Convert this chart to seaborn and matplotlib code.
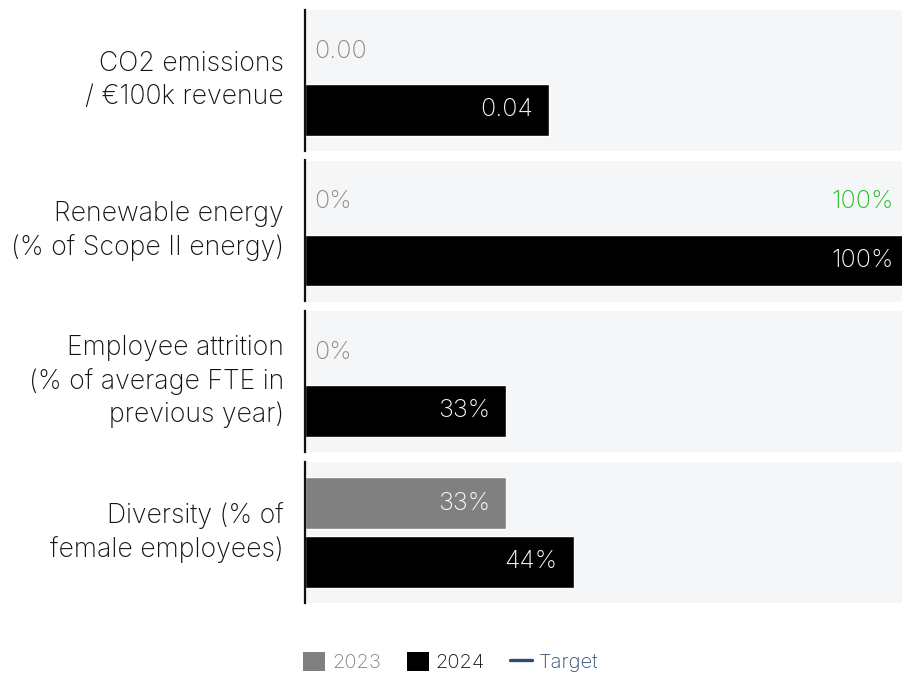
import matplotlib
matplotlib.use("Agg")
import matplotlib.pyplot as plt
from matplotlib.patches import Patch
from matplotlib.lines import Line2D
import seaborn as sns
import pandas as pd

# ---- data -------------------------------------------------------------
metrics = [
    "CO2 emissions\n/ €100k revenue",
    "Renewable energy\n(% of Scope II energy)",
    "Employee attrition\n(% of average FTE in\nprevious year)",
    "Diversity (% of\nfemale employees)",
]
years = ["2023", "2024"]
values_2023 = [0.00, 0.0, 0.0, 33.3]
values_2024 = [0.04, 100.0, 33.3, 44.4]
labels_2023 = ["0.00", "0%", "0%", "33%"]
labels_2024 = ["0.04", "100%", "33%", "44%"]
targets = [None, 100.0, None, None]
target_labels = [None, "100%", None, None]
axis_max = [0.099, 100.0, 100.0, 100.0]

# ---- style ------------------------------------------------------------
sns.set_theme(style="white")
plt.rcParams["font.family"] = ["Inter", "DejaVu Sans"]
WEIGHT = "light"

C2023 = "#808080"
C2024 = "#000000"
CZERO = "#8a8a8a"
CTARGET_TXT = "#22c022"
CTARGET = "#2f4b6e"
PANEL_BG = "#f5f6f8"
INK = "#111111"

W, H = 902, 673
fig = plt.figure(figsize=(W / 100, H / 100), dpi=100)

PX = 0.72  # points per pixel at 100 dpi
panel_tops = [10, 160.5, 311, 462]
panel_h = 141
ax_left, ax_right = 305, 910

df = pd.DataFrame({
    "metric": [m for m in metrics for _ in years],
    "year": years * len(metrics),
    "value": [v for pair in zip(values_2023, values_2024) for v in pair],
})

for i, metric in enumerate(metrics):
    top = panel_tops[i]
    ax = fig.add_axes([ax_left / W, 1 - (top + panel_h) / H,
                       (ax_right - ax_left) / W, panel_h / H])
    ax.set_facecolor(PANEL_BG)
    sub = df[df["metric"] == metric]
    sns.barplot(data=sub, x="value", y="year", hue="year", order=years,
                hue_order=years, palette={"2023": C2023, "2024": C2024},
                width=0.87, saturation=1, legend=False, ax=ax, orient="h")
    ax.set_xlim(0, axis_max[i])
    ax.set_ylim(1.695, -0.695)
    ax.set_xlabel("")
    ax.set_ylabel("")
    ax.set_xticks([])
    ax.set_yticks([])
    for s in ["top", "right", "bottom"]:
        ax.spines[s].set_visible(False)
    ax.spines["left"].set_color(INK)
    ax.spines["left"].set_linewidth(1.6)

    # category label
    ax.annotate(metric, xy=(0, 0.5), xycoords="axes fraction",
                xytext=(-21 * PX, 0), textcoords="offset points",
                ha="right", va="center", multialignment="right",
                fontsize=19.2, color=INK, linespacing=1.35, fontweight=WEIGHT)

    # value labels
    for row, (val, lab) in enumerate([(values_2023[i], labels_2023[i]),
                                      (values_2024[i], labels_2024[i])]):
        if val > 0:
            ax.annotate(lab, xy=(val, row), xytext=(-16 * PX, 0),
                        textcoords="offset points", ha="right", va="center",
                        fontsize=18, color="white", fontweight=WEIGHT)
        else:
            ax.annotate(lab, xy=(0, row), xytext=(9 * PX, 0),
                        textcoords="offset points", ha="left", va="center",
                        fontsize=18, color=CZERO, fontweight=WEIGHT)

    # target marker and label
    if targets[i] is not None:
        ax.axvline(targets[i], color=CTARGET, lw=2.2, ymin=0, ymax=1)
        ax.annotate(target_labels[i], xy=(targets[i], 0), xytext=(-16 * PX, 0),
                    textcoords="offset points", ha="right", va="center",
                    fontsize=18, color=CTARGET_TXT, fontweight=WEIGHT)

# ---- legend -----------------------------------------------------------
handles = [
    Patch(facecolor=C2023, edgecolor="none"),
    Patch(facecolor=C2024, edgecolor="none"),
    Line2D([0], [0], color=CTARGET, lw=2.4),
]
leg = fig.legend(handles, ["2023", "2024", "Target"], ncol=3, frameon=False,
                 loc="center", bbox_to_anchor=(0.5, 1 - 662 / H),
                 handlelength=1.1, handleheight=1.1,
                 handletextpad=0.35, columnspacing=1.25, borderpad=0,
                 prop={"weight": WEIGHT, "size": 14.5})
for txt, col in zip(leg.get_texts(), [C2023, INK, CTARGET]):
    txt.set_color(col)

fig.savefig("out.png", dpi=100)
